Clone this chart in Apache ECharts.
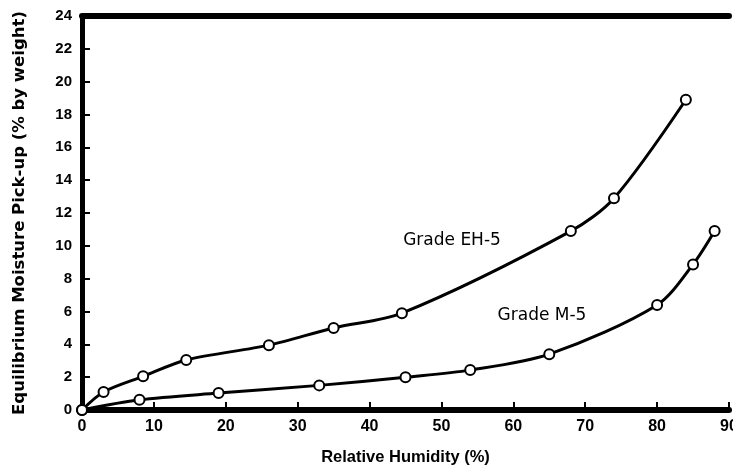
<!DOCTYPE html>
<html>
<head>
<meta charset="utf-8">
<script src="https://cdn.jsdelivr.net/npm/echarts@6/dist/echarts.min.js"></script>
<style>
  html, body { margin: 0; padding: 0; background: #fff; }
  #chart { width: 733px; height: 471px; }
</style>
</head>
<body>
<div id="chart"></div>
<script>
// relative humidity (%) and moisture pick-up (%)
const eh5Humidity = [0, 3, 8.5, 14.5, 26, 35, 44.5, 68, 74, 84];
const eh5Pickup   = [0, 1.1, 2.05, 3.05, 3.95, 5, 5.9, 10.9, 12.9, 18.9];
const m5Humidity  = [0, 8, 19, 33, 45, 54, 65, 80, 85, 88];
const m5Pickup    = [0, 0.62, 1.03, 1.5, 2, 2.43, 3.4, 6.4, 8.87, 10.9];

const xTicks = { min: 0, max: 90, step: 10 };
const yTicks = { min: 0, max: 24, step: 2 };

const font = '"Liberation Sans", Arial, sans-serif';
const wideFont = '"DejaVu Sans", sans-serif';

function pairs(xs, ys) {
  return xs.map((x, i) => [x, ys[i]]);
}

const chart = echarts.init(document.getElementById('chart'));

const lineSeries = (name, data) => ({
  name: name,
  type: 'line',
  data: data,
  smooth: 0.3,
  symbol: 'emptyCircle',
  symbolSize: 10,
  showAllSymbol: true,
  lineStyle: { color: '#000', width: 3 },
  itemStyle: { color: '#000', borderColor: '#000', borderWidth: 1.3 },
  z: 3
});

chart.setOption({
  animation: false,
  backgroundColor: '#fff',
  grid: { left: 82, right: 4, top: 16, bottom: 61, containLabel: false, outerBoundsMode: 'none' },
  xAxis: [
    {
      type: 'value',
      min: xTicks.min, max: xTicks.max, interval: xTicks.step,
      name: 'Relative Humidity (%)',
      nameLocation: 'middle',
      nameGap: 39,
      nameTextStyle: { fontFamily: font, fontWeight: 'bold', fontSize: 16.5, color: '#000' },
      axisLine: { lineStyle: { color: '#000', width: 6 } },
      axisTick: { inside: true, length: 8, lineStyle: { color: '#000', width: 2 } },
      axisLabel: { fontFamily: font, fontWeight: 'bold', fontSize: 16, color: '#000', margin: 9 },
      splitLine: { show: false }
    },
    {
      type: 'value',
      position: 'top',
      min: xTicks.min, max: xTicks.max,
      axisLine: { lineStyle: { color: '#000', width: 6 } },
      axisTick: { show: false },
      axisLabel: { show: false },
      splitLine: { show: false }
    }
  ],
  yAxis: {
    type: 'value',
    min: yTicks.min, max: yTicks.max, interval: yTicks.step,
    name: 'Equilibrium Moisture Pick-up (% by weight)',
    nameLocation: 'middle',
    nameGap: 54,
    nameTextStyle: { fontFamily: wideFont, fontWeight: 'bold', fontSize: 16.5, color: '#000' },
    axisLine: { lineStyle: { color: '#000', width: 5 } },
    axisTick: { inside: true, length: 8, lineStyle: { color: '#000', width: 2 } },
    axisLabel: { fontFamily: font, fontWeight: 'bold', fontSize: 15, color: '#000', margin: 10 },
    splitLine: { show: false }
  },
  series: [
    lineSeries('Grade EH-5', pairs(eh5Humidity, eh5Pickup)),
    lineSeries('Grade M-5', pairs(m5Humidity, m5Pickup))
  ],
  graphic: [
    { type: 'text', x: 452, y: 241,
      style: { text: 'Grade EH-5', fontFamily: wideFont, fontSize: 17, fill: '#000',
               align: 'center', verticalAlign: 'middle' } },
    { type: 'text', x: 542, y: 316,
      style: { text: 'Grade M-5', fontFamily: wideFont, fontSize: 17, fill: '#000',
               align: 'center', verticalAlign: 'middle' } }
  ]
});
</script>
</body>
</html>
